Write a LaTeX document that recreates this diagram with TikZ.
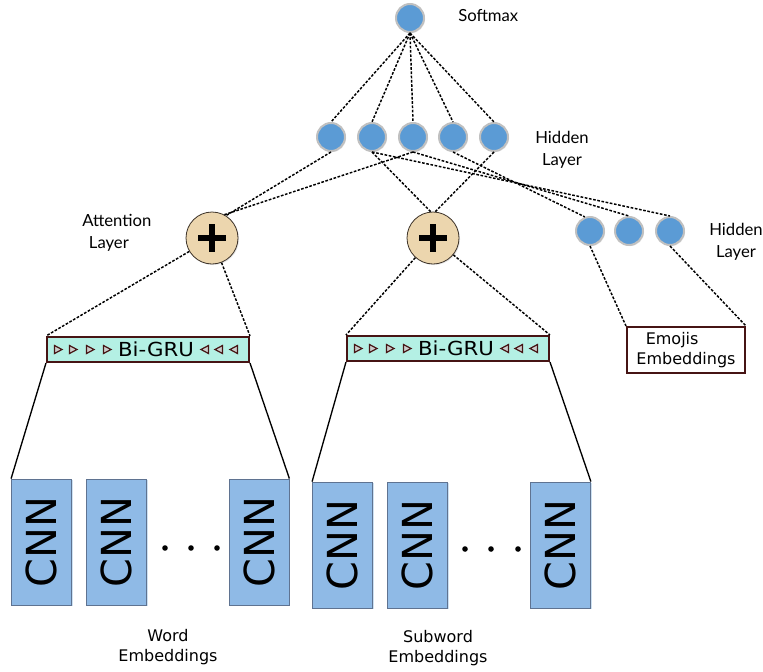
\documentclass[tikz,border=0pt]{standalone}
\usepackage{fontspec}
\setmainfont{DejaVu Sans}
\newfontfamily\latofont{Lato}
\usetikzlibrary{shadows}
\definecolor{neuron}{RGB}{91,155,213}
\definecolor{ring}{RGB}{192,192,192}
\definecolor{plusfill}{RGB}{236,214,174}
\definecolor{plusdraw}{RGB}{60,50,40}
\definecolor{grufill}{RGB}{180,240,228}
\definecolor{grudraw}{RGB}{70,20,20}
\definecolor{cnnfill}{RGB}{143,186,230}
\definecolor{cnndraw}{RGB}{95,115,145}
\begin{document}
\begin{tikzpicture}[x=0.75pt,y=-0.75pt,
  neuronstyle/.style={circle,fill=neuron,draw=ring,line width=1.5pt,minimum size=21pt,inner sep=0pt,
    drop shadow={opacity=0.2,shadow xshift=0.8pt,shadow yshift=-0.8pt}},
  plusstyle/.style={circle,fill=plusfill,draw=plusdraw,line width=0.6pt,minimum size=39pt,inner sep=0pt,
    drop shadow={opacity=0.2,shadow xshift=0.8pt,shadow yshift=-0.8pt}},
  grustyle/.style={rectangle,fill=grufill,draw=grudraw,line width=1.5pt,minimum width=151.5pt,minimum height=18.75pt,inner sep=0pt,
    font=\fontsize{14.5pt}{15pt}\selectfont},
  tri/.style={draw=grudraw,fill=grufill!50!grudraw!40,line width=0.9pt,line join=miter},
  cnnstyle/.style={rectangle,fill=cnnfill,draw=cnndraw,line width=0.6pt,minimum width=45pt,minimum height=94.5pt,inner sep=0pt,
    font=\fontsize{31pt}{33pt}\selectfont,
    drop shadow={fill=neuron,opacity=0.3,shadow xshift=1pt,shadow yshift=-1pt}},
  emostyle/.style={rectangle,fill=white,draw=grudraw,line width=1.5pt,minimum width=88.5pt,minimum height=34.5pt,inner sep=0pt,
    align=left,font=\fontsize{12pt}{15pt}\selectfont},
  lato/.style={font=\latofont\fontsize{12.5pt}{16.5pt}\selectfont,inner sep=0pt},
  dejalabel/.style={font=\fontsize{12pt}{15pt}\selectfont,align=center,inner sep=0pt},
  dotline/.style={dash pattern=on 2pt off 1.2pt,line width=1.1pt},
  solidline/.style={line width=1pt}
]
\useasboundingbox (0,0) rectangle (763,671);

% neurons
\node[neuronstyle] (s) at (410,18) {};
\node[neuronstyle] (h1) at (331,137) {};
\node[neuronstyle] (h2) at (372,137) {};
\node[neuronstyle] (h3) at (413,137) {};
\node[neuronstyle] (h4) at (453,137) {};
\node[neuronstyle] (h5) at (494,137) {};
\node[neuronstyle] (r1) at (590,231) {};
\node[neuronstyle] (r2) at (629,231) {};
\node[neuronstyle] (r3) at (670,231) {};

% attention plus
\node[plusstyle] (lp) at (212,238) {};
\node[plusstyle] (mp) at (433,238) {};
\foreach \p in {lp,mp}{
  \draw[line width=4.5pt] (\p) ++(-14,0) -- ++(28,0);
  \draw[line width=4.5pt] (\p) ++(0,-14) -- ++(0,28);
}

% Bi-GRU boxes
\node[grustyle] (g1) at (148,349.5) {\hspace*{12pt}\scalebox{1.1}[1]{Bi-GRU}};
\node[grustyle] (g2) at (448,348.5) {\hspace*{12pt}\scalebox{1.1}[1]{Bi-GRU}};
\foreach \g in {g1,g2}{
  \foreach \d in {12,27,44,61}
    \draw[tri] ([xshift=\d*0.75pt]\g.west) ++(-3.5,-4) -- ++(7.5,4) -- ++(-7.5,4) -- cycle;
  \foreach \d in {45,31,16}
    \draw[tri] ([xshift=-\d*0.75pt]\g.east) ++(3.5,-4) -- ++(-7.5,4) -- ++(7.5,4) -- cycle;
}

% Emojis box
\node[emostyle] (emo) at (686,350) {\hspace*{7pt}Emojis\\Embeddings};

% CNN boxes
\node[cnnstyle] (w1) at (41.5,542) {\rotatebox{90}{CNN}};
\node[cnnstyle] (w2) at (116.5,542) {\rotatebox{90}{CNN}};
\node[cnnstyle] (w3) at (259,542) {\rotatebox{90}{CNN}};
\node[cnnstyle] (u1) at (342.5,545) {\rotatebox{90}{CNN}};
\node[cnnstyle] (u2) at (417.5,545) {\rotatebox{90}{CNN}};
\node[cnnstyle] (u3) at (560.5,545) {\rotatebox{90}{CNN}};

% dots
\foreach \x in {165,191,217} \fill (\x,548) circle (2.1pt);
\foreach \x in {465,491,518} \fill (\x,549) circle (2.1pt);

% labels
\node[lato,anchor=west] (lsoft) at (458,16) {Softmax};
\node[lato,align=center] (lhid1) at (562,150) {Hidden\\Layer};
\node[lato,align=left,anchor=west] (latt) at (82,233) {Attention\\\hspace*{5pt}Layer};
\node[lato,align=center] (lhid2) at (736,242) {Hidden\\Layer};
\node[dejalabel] (lword) at (168,647) {Word\\Embeddings};
\node[dejalabel] (lsub) at (438,648) {Subword\\Embeddings};

% softmax connections
\foreach \h in {h1,h2,h3,h4,h5} \draw[dotline] (s.south) -- (\h.north);

% hidden to attention
\draw[dotline] (h1.south) -- (lp.58);
\draw[dotline] (h3.south) -- (lp.62);
\draw[dotline] (h2.south) -- (mp.95);
\draw[dotline] (h5.south) -- (mp.85);

% hidden to right hidden
\draw[dotline] (h2.south) -- (r3.north);
\draw[dotline] (h3.south) -- (r2.north);
\draw[dotline] (h4.south) -- (r1.110);

% attention to Bi-GRU
\draw[dotline] (lp) -- (g1.north west);
\draw[dotline] (lp) -- (g1.north east);
\draw[dotline] (mp) -- (g2.north west);
\draw[dotline] (mp) -- (g2.north east);

% right hidden to emojis
\draw[dotline] (r1.south) -- (emo.north west);
\draw[dotline] (r3.south) -- (emo.north east);

% Bi-GRU to CNN
\draw[solidline] (g1.south west) -- (w1.north west);
\draw[solidline] (g1.south east) -- (w3.north east);
\draw[solidline] (g2.south west) -- (u1.north west);
\draw[solidline] (g2.south east) -- (u3.north east);
\end{tikzpicture}
\end{document}
